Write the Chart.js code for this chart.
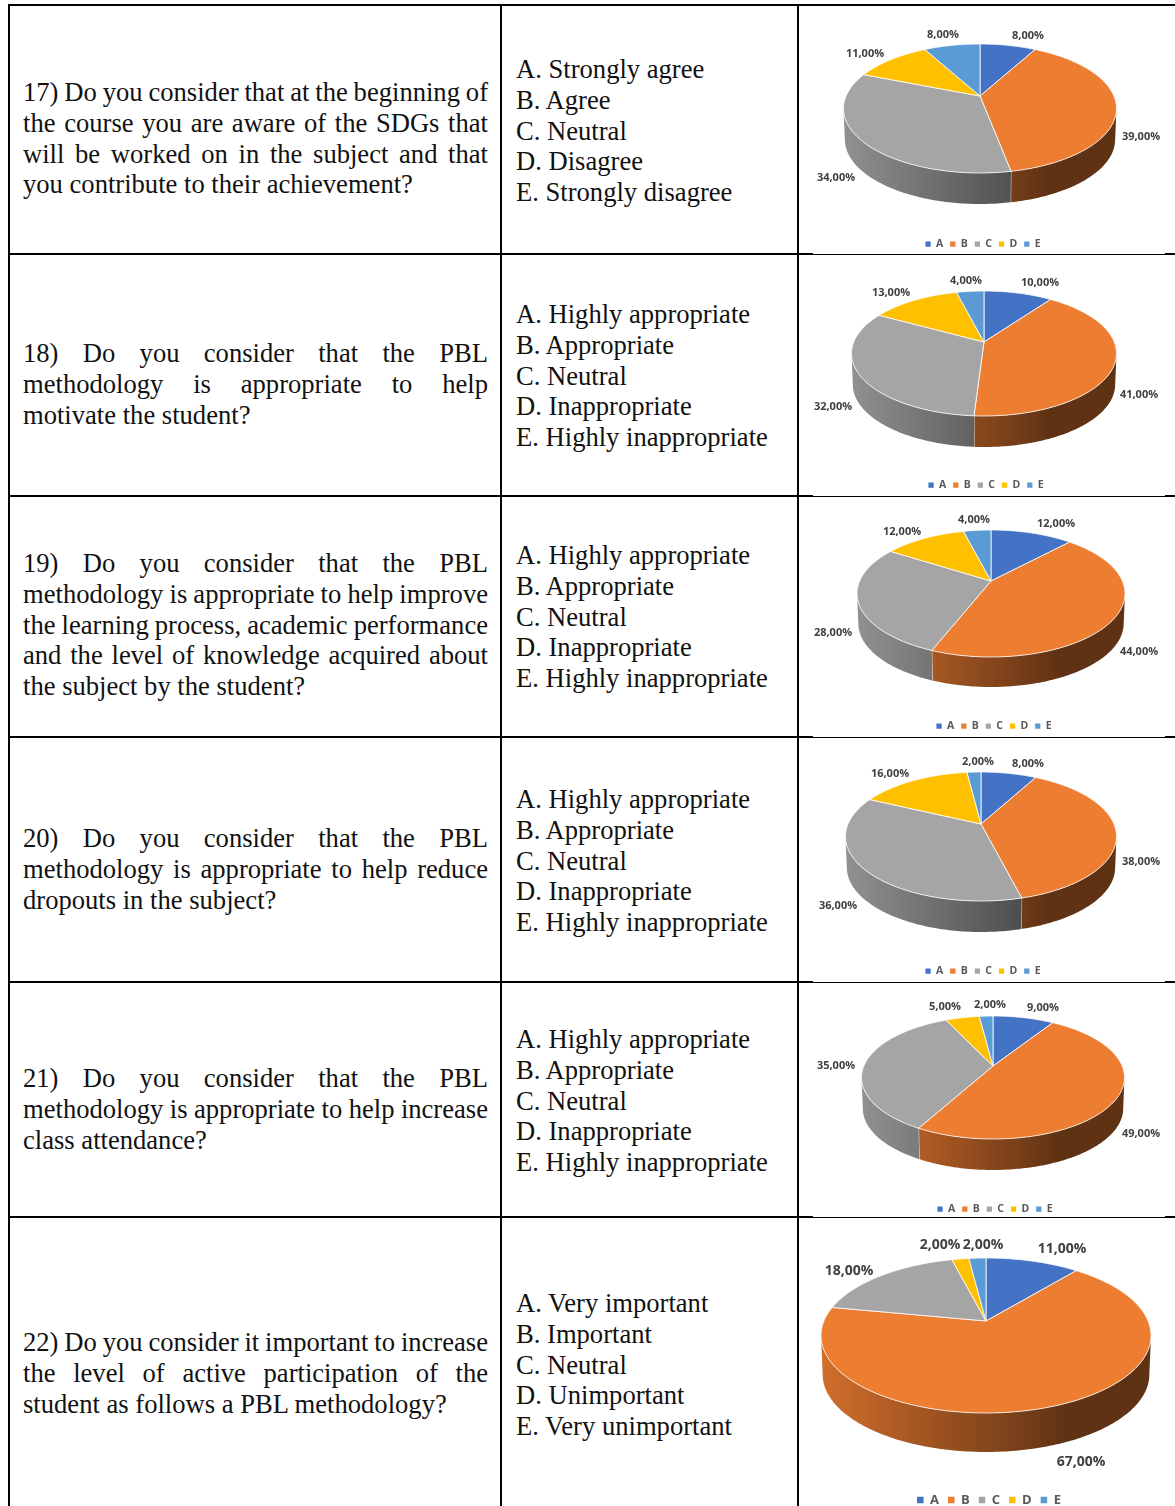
<!DOCTYPE html>
<html>
<head>
<meta charset="utf-8">
<title>Survey answers 17-22</title>
<script src="https://cdn.jsdelivr.net/npm/chart.js@4/dist/chart.umd.js"></script>
<style>
  html, body { margin: 0; padding: 0; background: #fff; }
  #page { position: relative; width: 1175px; height: 1506px; overflow: hidden; }
  .rule { position: absolute; background: #000; }
  .block { position: absolute; font-family: "Liberation Serif", serif; font-size: 26.6px; line-height: 30.8px; color: #111; }
  .block div { white-space: nowrap; }
  .block span { display: inline-block; }
  canvas { position: absolute; left: 799px; }
</style>
</head>
<body>
<div id="page"></div>
<script>
const legendLabels = ["A", "B", "C", "D", "E"];
const colors = ["#4472C4", "#ED7D31", "#A5A5A5", "#FFC000", "#5B9BD5"];

const values17 = [8, 39, 34, 11, 8];
const values18 = [10, 41, 32, 13, 4];
const values19 = [12, 44, 28, 12, 4];
const values20 = [8, 38, 36, 16, 2];
const values21 = [9, 49, 35, 5, 2];
const values22 = [11, 67, 18, 2, 2];
const allValues = [values17, values18, values19, values20, values21, values22];

const questions = [
  ["17) Do you consider that at the beginning of", "the course you are aware of the SDGs that", "will be worked on in the subject and that", "you contribute to their achievement?"],
  ["18) Do you consider that the PBL", "methodology is appropriate to help", "motivate the student?"],
  ["19) Do you consider that the PBL", "methodology is appropriate to help improve", "the learning process, academic performance", "and the level of knowledge acquired about", "the subject by the student?"],
  ["20) Do you consider that the PBL", "methodology is appropriate to help reduce", "dropouts in the subject?"],
  ["21) Do you consider that the PBL", "methodology is appropriate to help increase", "class attendance?"],
  ["22) Do you consider it important to increase", "the level of active participation of the", "student as follows a PBL methodology?"]
];

const appropriate = ["A. Highly appropriate", "B. Appropriate", "C. Neutral", "D. Inappropriate", "E. Highly inappropriate"];
const answers = [
  ["A. Strongly agree", "B. Agree", "C. Neutral", "D. Disagree", "E. Strongly disagree"],
  appropriate, appropriate, appropriate, appropriate,
  ["A. Very important", "B. Important", "C. Neutral", "D. Unimportant", "E. Very unimportant"]
];

// table layout, page pixels
const rowLines = [5, 254, 496, 737, 982, 1217];
const questionY = [92, 353, 563, 838, 1078, 1342];
const answerY = [69, 314, 555, 799, 1039, 1303];
const questionWidth = 465;

// how each pie is seen: apex, top/bottom of the face, half width, wall height
const views = [
  { cx: 980, cy: 96, top: 44, bottom: 173, rx: 136.5, depth: 31, legendX: 983, legendY: 243, size: 11, legendSize: 10.5 },
  { cx: 984, cy: 342, top: 291, bottom: 416, rx: 132.5, depth: 31, legendX: 986, legendY: 484, size: 11, legendSize: 10.5 },
  { cx: 991, cy: 581, top: 530, bottom: 657, rx: 134, depth: 30, legendX: 994, legendY: 725, size: 11, legendSize: 10.5 },
  { cx: 981, cy: 824, top: 772, bottom: 901, rx: 135.5, depth: 31, legendX: 983, legendY: 970, size: 11, legendSize: 10.5 },
  { cx: 993, cy: 1066, top: 1016, bottom: 1139, rx: 131.5, depth: 31, legendX: 995, legendY: 1208, size: 11, legendSize: 10.5 },
  { cx: 986, cy: 1321, top: 1258, bottom: 1413, rx: 165, depth: 39, legendX: 989, legendY: 1499, size: 14, legendSize: 13 }
];

// where the value labels sit, page pixels
const labelSpots = [
  [[1028, 35], [1141, 136], [836, 177], [865, 53], [943, 34]],
  [[1040, 282], [1139, 394], [833, 406], [891, 292], [966, 280]],
  [[1056, 523], [1139, 651], [833, 632], [902, 531], [974, 519]],
  [[1028, 763], [1141, 861], [838, 905], [890, 773], [978, 761]],
  [[1043, 1007], [1141, 1133], [836, 1065], [945, 1006], [990, 1004]],
  [[1062, 1248], [1081, 1461], [849, 1270], [940, 1244], [983, 1244]]
];

const page = document.getElementById("page");

function addRule(x, y, w, h, color) {
  const d = document.createElement("div");
  d.className = "rule";
  d.style.cssText = `left:${x}px;top:${y}px;width:${w}px;height:${h}px`;
  if (color) d.style.background = color;
  page.appendChild(d);
}

function addBlock(lines, x, y, fitWidth) {
  const b = document.createElement("div");
  b.className = "block";
  b.style.left = x + "px";
  b.style.top = (y - 15) + "px";
  page.appendChild(b);
  lines.forEach((text, i) => {
    const line = document.createElement("div");
    const span = document.createElement("span");
    span.textContent = text;
    line.appendChild(span);
    b.appendChild(line);
    // justified lines: every line but the last fills the column
    if (fitWidth && i < lines.length - 1) {
      const gaps = text.split(" ").length - 1;
      span.style.wordSpacing = (fitWidth - span.getBoundingClientRect().width) / gaps + "px";
    }
  });
}

rowLines.forEach(y => addRule(9, y - 1, 1166, 2));
rowLines.slice(1).forEach(y => addRule(813, y - 1, 352, 1, "#fff"));
addRule(8, 4, 2, 1502);
addRule(500, 4, 2, 1502);
addRule(797, 4, 2, 1502);

questions.forEach((lines, i) => addBlock(lines, 23, questionY[i], questionWidth));
answers.forEach((lines, i) => addBlock(lines, 516, answerY[i], 0));

function shade(hex, f) {
  const n = parseInt(hex.slice(1), 16);
  return `rgb(${Math.round((n >> 16 & 255) * f)},${Math.round((n >> 8 & 255) * f)},${Math.round((n & 255) * f)})`;
}

function tiltOf(view) {
  const up = view.cy - view.top, down = view.bottom - view.cy;
  return (down - up) / (down + up);
}

// a slice's angle on the tilted disc, with a little perspective
function project(view, angle) {
  const k = tiltOf(view);
  const flat = (view.cy - view.top) * (1 + k);
  const r = view.rx * Math.sqrt(1 - k * k);
  const t = angle + Math.PI / 2;
  const X = Math.sin(t), Y = -Math.cos(t);
  const s = 1 / (1 - k * Y);
  return { x: view.cx + r * X * s, y: view.cy + flat * Y * s };
}

function rimPoints(view, from, to) {
  const pts = [];
  const steps = Math.max(2, Math.ceil((to - from) * 60));
  for (let i = 0; i <= steps; i++) {
    pts.push(project(view, from + (to - from) * i / steps));
  }
  return pts;
}

class Pie3dController extends Chart.PieController {
  static id = "pie3d";
  static defaults = {};

  draw() {
    const ctx = this.chart.ctx;
    const arcs = this._cachedMeta.data;
    const view = this.getDataset().view;
    ctx.save();
    ctx.translate(-799, -this.getDataset().canvasTop);

    arcs.forEach(arc => this.drawWall(ctx, arc, view));
    arcs.forEach(arc => this.drawFace(ctx, arc, view));

    ctx.restore();
  }

  drawWall(ctx, arc, view) {
    // only the part of the rim that faces the viewer gets a wall
    const side = Math.acos(-tiltOf(view));
    const frontFrom = side - Math.PI / 2;
    const frontTo = 2 * Math.PI - side - Math.PI / 2;
    const from = Math.max(arc.startAngle, frontFrom);
    const to = Math.min(arc.endAngle, frontTo);
    if (to <= from) return;

    const pts = rimPoints(view, from, to);
    const under = p => ({ x: view.cx + (p.x - view.cx) * 0.99, y: p.y + view.depth });
    const base = arc.options.backgroundColor;
    const g = ctx.createLinearGradient(view.cx - view.rx, 0, view.cx + view.rx, 0);
    g.addColorStop(0, shade(base, 0.88));
    g.addColorStop(0.6, shade(base, 0.5));
    g.addColorStop(0.75, shade(base, 0.4));
    g.addColorStop(1, shade(base, 0.4));

    ctx.beginPath();
    pts.forEach((p, i) => i ? ctx.lineTo(p.x, p.y) : ctx.moveTo(p.x, p.y));
    pts.slice().reverse().forEach(p => { const u = under(p); ctx.lineTo(u.x, u.y); });
    ctx.closePath();
    ctx.fillStyle = g;
    ctx.fill();

    if (arc.endAngle < frontTo) {
      const end = pts[pts.length - 1], low = under(end);
      ctx.beginPath();
      ctx.moveTo(end.x, end.y);
      ctx.lineTo(low.x, low.y);
      ctx.strokeStyle = "rgba(255,255,255,0.75)";
      ctx.lineWidth = 1;
      ctx.stroke();
    }
  }

  drawFace(ctx, arc, view) {
    const pts = rimPoints(view, arc.startAngle, arc.endAngle);
    ctx.beginPath();
    ctx.moveTo(view.cx, view.cy);
    pts.forEach(p => ctx.lineTo(p.x, p.y));
    ctx.closePath();
    ctx.fillStyle = arc.options.backgroundColor;
    ctx.fill();
    ctx.strokeStyle = "rgba(255,255,255,0.8)";
    ctx.lineWidth = 1;
    ctx.lineJoin = "round";
    ctx.stroke();
  }
}
Chart.register(Pie3dController);

const sliceLabels = {
  id: "sliceLabels",
  afterDatasetsDraw(chart) {
    const ds = chart.data.datasets[0];
    const ctx = chart.ctx;
    ctx.save();
    ctx.font = `bold ${ds.view.size}px "Open Sans"`;
    ctx.fillStyle = "#404040";
    ctx.textAlign = "center";
    ctx.textBaseline = "middle";
    ds.data.forEach((v, i) => {
      const [x, y] = ds.spots[i];
      ctx.fillText(v.toFixed(2).replace(".", ",") + "%", x - 799, y - ds.canvasTop + 1);
    });
    ctx.restore();
  }
};

allValues.forEach((values, i) => {
  const view = views[i];
  const canvasTop = rowLines[i] + 1;
  const rowEnd = i < 5 ? rowLines[i + 1] : 1506;
  const height = rowEnd - canvasTop + 40;
  const width = 376;

  const canvas = document.createElement("canvas");
  canvas.width = width;
  canvas.height = height;
  canvas.style.top = canvasTop + "px";
  canvas.style.width = width + "px";
  canvas.style.height = height + "px";
  page.appendChild(canvas);

  const shift = (view.legendX - (799 + width / 2)) * 2;
  const big = view.size === 14;
  const itemPad = big ? 9 : 7;
  const legendH = itemPad * 2 + view.legendSize + (big ? 4 : 8);

  new Chart(canvas, {
    type: "pie3d",
    data: {
      labels: legendLabels,
      datasets: [{
        data: values,
        backgroundColor: colors,
        borderWidth: 0,
        view: view,
        spots: labelSpots[i],
        canvasTop: canvasTop
      }]
    },
    options: {
      responsive: false,
      animation: false,
      events: [],
      layout: {
        padding: {
          left: shift > 0 ? shift : 0,
          right: shift < 0 ? -shift : 0,
          bottom: canvasTop + height - view.legendY - legendH / 2
        }
      },
      plugins: {
        tooltip: { enabled: false },
        legend: {
          display: true,
          position: "bottom",
          align: "center",
          labels: {
            boxWidth: view.legendSize * 0.5,
            boxHeight: view.legendSize * 0.5,
            padding: itemPad,
            color: "#595959",
            font: { family: "Open Sans", weight: "bold", size: view.legendSize }
          }
        }
      }
    },
    plugins: [sliceLabels]
  });
});
</script>
</body>
</html>
